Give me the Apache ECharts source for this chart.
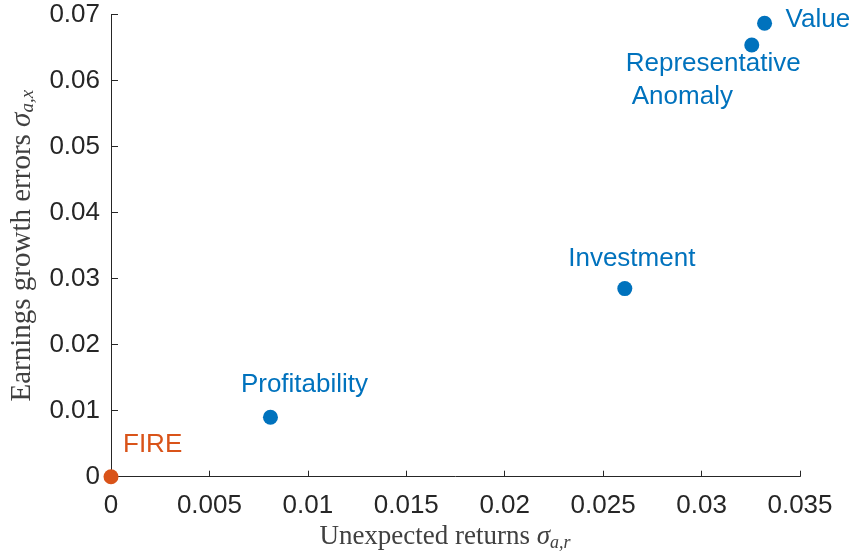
<!DOCTYPE html>
<html>
<head>
<meta charset="utf-8">
<script src="https://cdn.jsdelivr.net/npm/echarts@6/dist/echarts.min.js"></script>
<style>
html,body{margin:0;padding:0;background:#fff;}
#chart{width:854px;height:554px;}
</style>
</head>
<body>
<div id="chart"></div>
<script>
// Data
const names = ['FIRE', 'Profitability', 'Investment', 'Representative Anomaly', 'Value'];
const xValues = [0, 0.0081, 0.0261, 0.03255, 0.0332];
const yValues = [0, 0.0090, 0.0285, 0.0654, 0.0687];
const xTicks = { min: 0, max: 0.035, interval: 0.005 };
const yTicks = { min: 0, max: 0.07, interval: 0.01 };

const BLUE = '#0072BD';
const ORANGE = '#D95319';
const AX = '#262626';
const LBL = '#404040';
const SANS = '"Liberation Sans", Arial, Helvetica, sans-serif';
const SERIF = '"Liberation Serif", "Times New Roman", serif';

// label placement (styles only)
const labelCfg = {
  'FIRE': { align: 'left', offset: [12, -32], color: ORANGE },
  'Profitability': { align: 'center', offset: [34, -32], color: BLUE },
  'Investment': { align: 'center', offset: [7, -30], color: BLUE },
  'Representative Anomaly': { align: 'left', offset: [-126, 35], color: BLUE, twoLine: true },
  'Value': { align: 'left', offset: [21, -3], color: BLUE }
};

const pts = names.map((n, i) => {
  const c = labelCfg[n];
  return {
    name: n,
    value: [xValues[i], yValues[i]],
    itemStyle: { color: n === 'FIRE' ? ORANGE : BLUE, opacity: 1 },
    label: {
      show: true,
      position: 'inside',
      align: c.align,
      verticalAlign: 'middle',
      offset: c.offset,
      color: c.color,
      opacity: 1,
      fontFamily: SANS,
      fontSize: 26,
      lineHeight: 33,
      formatter: c.twoLine ? '{a|Representative}\n{b|Anomaly}' : n,
      rich: c.twoLine ? {
        a: { color: BLUE, fontFamily: SANS, fontSize: 26, lineHeight: 33 },
        b: { color: BLUE, fontFamily: SANS, fontSize: 26, lineHeight: 33, padding: [0, 0, 0, 6] }
      } : undefined
    }
  };
});

function richName(size) {
  return {
    t: { fontFamily: SERIF, fontSize: size, color: LBL, lineHeight: 30, verticalAlign: 'middle' },
    s: { fontFamily: SERIF, fontStyle: 'italic', fontSize: size, color: LBL, lineHeight: 30, verticalAlign: 'middle' },
    sub: { fontFamily: SERIF, fontStyle: 'italic', fontSize: Math.round(size * 0.66), color: LBL, lineHeight: 30, verticalAlign: 'bottom' }
  };
}

const chart = echarts.init(document.getElementById('chart'), null, { renderer: 'canvas' });
chart.setOption({
  animation: false,
  backgroundColor: '#ffffff',
  grid: { left: 111, right: 54, top: 14.7, bottom: 77.3, containLabel: false, outerBoundsMode: 'none' },
  xAxis: {
    type: 'value',
    min: xTicks.min, max: xTicks.max, interval: xTicks.interval,
    name: '{t|Unexpected returns }{s|σ}{sub|a,r}',
    nameLocation: 'middle',
    nameGap: 45,
    nameTextStyle: { padding: [0, 21, 0, 0], rich: richName(27) },
    axisLine: { show: true, onZero: false, lineStyle: { color: AX, width: 1 } },
    axisTick: { show: true, inside: true, length: 6, lineStyle: { color: AX } },
    axisLabel: { color: AX, fontFamily: SANS, fontSize: 26, margin: 16 },
    splitLine: { show: false }
  },
  yAxis: {
    type: 'value',
    min: yTicks.min, max: yTicks.max, interval: yTicks.interval,
    name: '{t|Earnings growth errors }{s|σ}{sub|a,x}',
    nameLocation: 'middle',
    nameGap: 74,
    nameRotate: 90,
    nameTextStyle: { rich: richName(29) },
    axisLine: { show: true, onZero: false, lineStyle: { color: AX, width: 1 } },
    axisTick: { show: true, inside: true, length: 7, lineStyle: { color: AX } },
    axisLabel: { color: AX, fontFamily: SANS, fontSize: 26, margin: 11 },
    splitLine: { show: false }
  },
  series: [{
    type: 'scatter',
    symbol: 'circle',
    symbolSize: 15,
    data: pts,
    clip: false,
    z: 5
  }]
});
</script>
</body>
</html>
